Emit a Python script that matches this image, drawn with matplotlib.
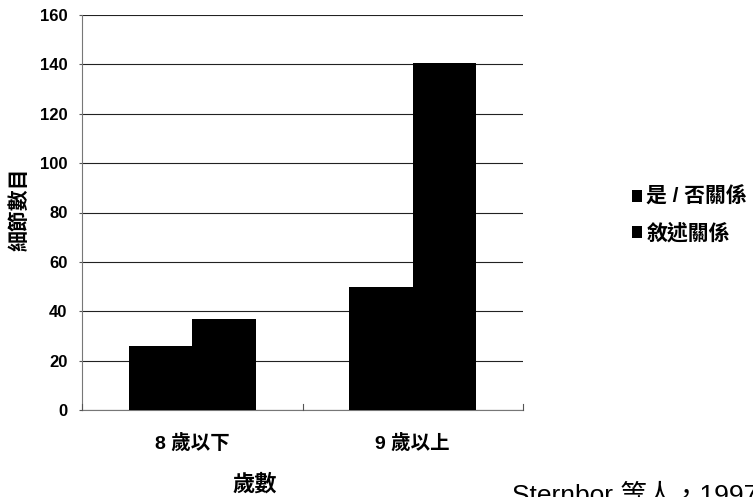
import matplotlib.pyplot as plt
import numpy as np

plt.rcParams['font.family'] = ['Liberation Sans', 'Noto Sans CJK TC', 'DejaVu Sans']

# data
categories = ['8 歲以下', '9 歲以上']
series_names = ['是 / 否關係', '敘述關係']
yes_no = [26, 50]
narrative = [37, 140.5]
y_ticks = [0, 20, 40, 60, 80, 100, 120, 140, 160]

fig = plt.figure(figsize=(7.53, 4.97), dpi=100)
ax = fig.add_axes([82 / 753, 87 / 497, 441 / 753, 395 / 497])

x = np.arange(len(categories))
w = 0.287
ax.bar(x - w / 2, yes_no, w, color='black', label=series_names[0], zorder=3)
ax.bar(x + w / 2, narrative, w, color='black', label=series_names[1], zorder=3)

ax.set_xlim(-0.5, 1.5)
ax.set_ylim(0, 160)
ax.set_yticks(y_ticks)
ax.set_yticklabels([str(t) for t in y_ticks], fontsize=12, fontweight='bold')
ax.set_xticks(x)
ax.set_xticklabels(categories, fontsize=14, fontweight='bold')
ax.tick_params(axis='x', length=0, pad=18)
ax.tick_params(axis='y', length=2.5, width=0.8, color='#555555', pad=8)

ax.yaxis.grid(True, color='#222222', linewidth=0.8, zorder=0)
for s in ['top', 'right']:
    ax.spines[s].set_visible(False)
ax.spines['left'].set_color('#777777')
ax.spines['bottom'].set_color('#777777')

# small category separators on the x axis
for xb in [-0.5, 0.5, 1.5]:
    ax.plot([xb, xb], [0, 2.5], color='#555555', linewidth=0.8, clip_on=False, zorder=4)

fig.text(20 / 753, 1 - 209 / 497, '細節數目', fontsize=15, fontweight='bold',
         rotation=90, ha='center', va='center')
fig.text(255 / 753, 1 - 485 / 497, '歲數', fontsize=16, fontweight='bold',
         ha='center', va='center')

ax.legend(loc='center left', bbox_to_anchor=(531 / 441, 1 - (215 - 15) / 395), frameon=False,
          prop={'size': 15, 'weight': 'bold'}, handlelength=0.5, handleheight=0.5,
          handletextpad=0.2, labelspacing=0.75)

fig.text(512 / 753, 1 - 503 / 497, 'Sternbor 等人，1997', fontsize=19,
         ha='left', va='baseline')

fig.savefig('out.png', dpi=100)
